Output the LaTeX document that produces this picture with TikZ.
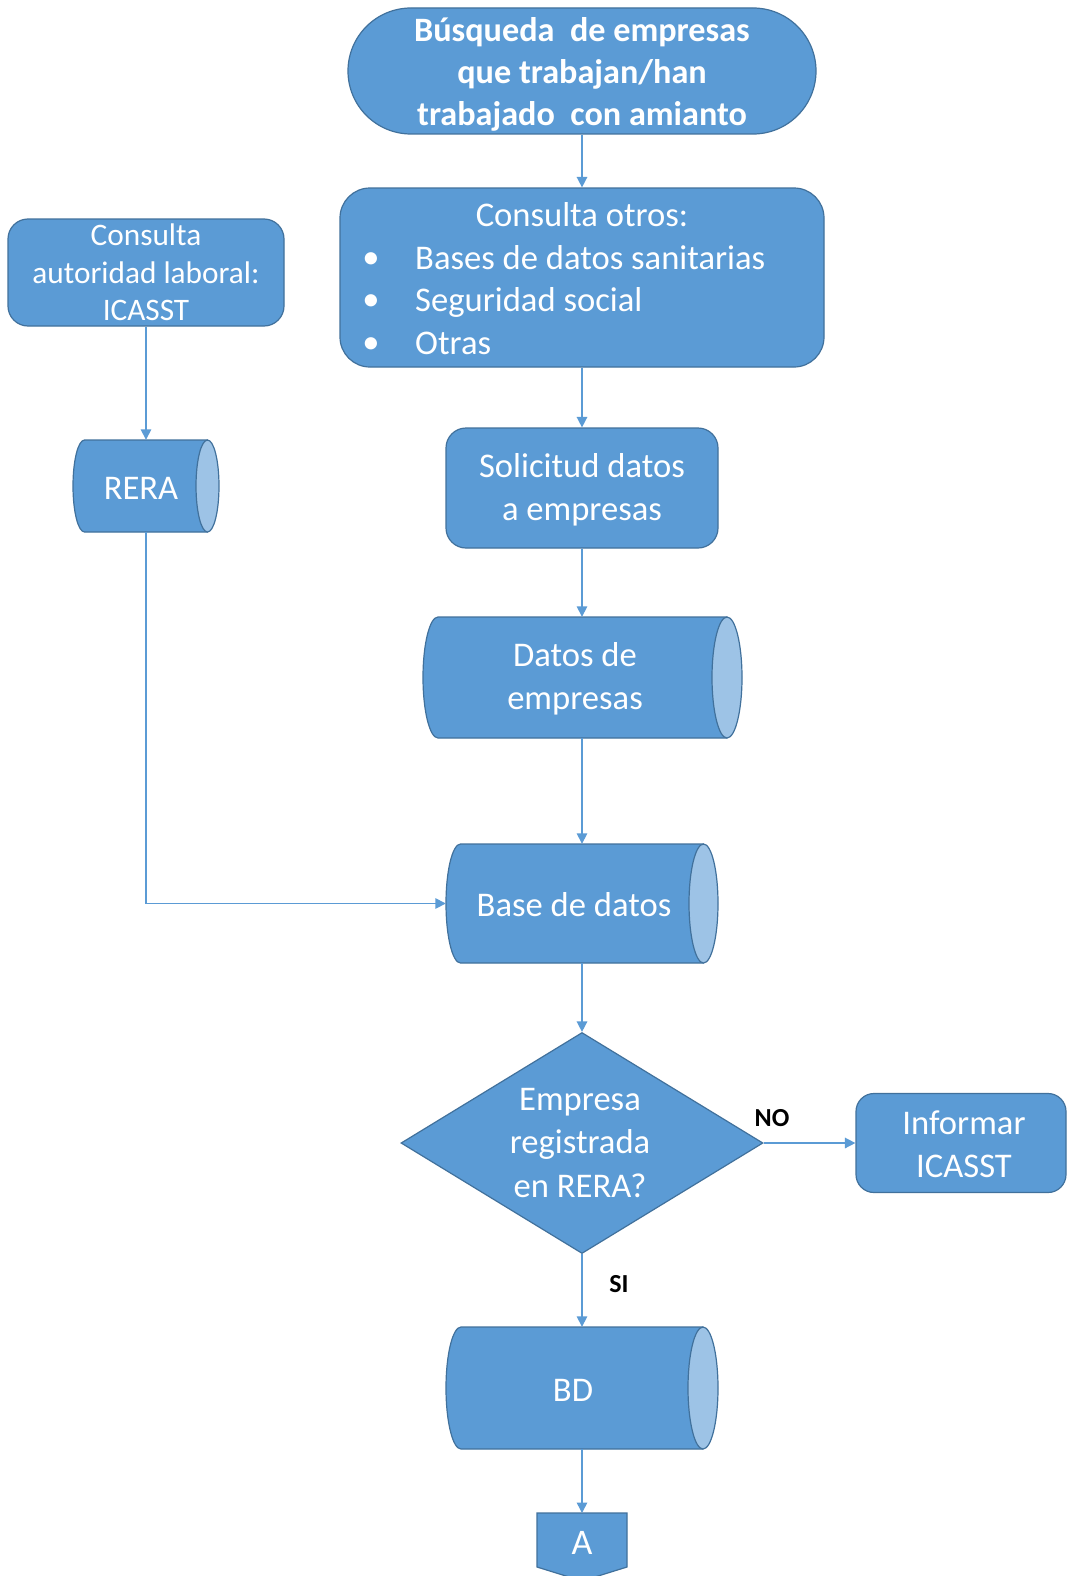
\documentclass[tikz,border=0pt]{standalone}
\usepackage{fontspec}
\setmainfont{Carlito}
\usetikzlibrary{shapes.geometric,arrows.meta}
\definecolor{fillc}{HTML}{5B9BD5}
\definecolor{bordc}{HTML}{41719C}
\definecolor{endc}{HTML}{9DC3E6}
\definecolor{arrc}{HTML}{5B9BD5}
\newcommand\fsA{\fontsize{34.6}{43.5}\selectfont}
\newcommand\fsB{\fontsize{34.2}{42}\selectfont\bfseries}
\newcommand\fsC{\fontsize{31.3}{37.5}\selectfont}
\newcommand\fsD{\fontsize{36}{40}\selectfont}
\newcommand\fsL{\fontsize{26}{28}\selectfont\bfseries}
% L T R B rx
\newcommand\drawcyl[5]{%
  \draw[cylbody] (#1+#5,#2) -- (#3-#5,#2) -- (#3-#5,#4) -- (#1+#5,#4)
     arc[start angle=90, end angle=270, x radius=#5, y radius={(#4-#2)/2}] -- cycle;
  \draw[cylend] (#3-#5,{(#2+#4)/2}) ellipse[x radius=#5, y radius={(#4-#2)/2}];}
\begin{document}
\begin{tikzpicture}[x=1pt,y=-1pt,
  box/.style={draw=bordc, fill=fillc, text=white, line width=1.2pt, align=center, inner sep=0pt, font=\fsA},
  cylbody/.style={draw=bordc, fill=fillc, line width=1.2pt, line join=round},
  cylend/.style={draw=bordc, fill=endc, line width=1.2pt},
  cylnode/.style={rectangle, inner sep=0pt},
  arr/.style={draw=arrc, line width=1.5pt, -{Triangle[width=10.5pt,length=10.5pt]}},
  txt/.style={text=white, align=center, inner sep=0pt, font=\fsA},
  lbl/.style={text=black, inner sep=0pt, font=\fsL}]
\fill[white] (0,0) rectangle (1067,1576);
\useasboundingbox (0,0) rectangle (1067,1576);

\node[box, rounded corners=63pt, minimum width=468, minimum height=126, font=\fsB] (start) at (582,71) {};
\node[txt, font=\fsB] (startT) at (582,74) {Búsqueda\ \ de empresas\\que trabajan/han\\trabajado\ \ con amianto};

\node[box, rounded corners=30pt, minimum width=484, minimum height=179] (otros) at (582,277.5) {};
\node[txt, anchor=base] (otrosT) at (582,226) {Consulta otros:};
\node[txt, anchor=base] (b1) at (371,268) {•};
\node[txt, anchor=base] (b2) at (371,310) {•};
\node[txt, anchor=base] (b3) at (371,353) {•};
\node[txt, anchor=base west] (l1) at (415,269) {Bases de datos sanitarias};
\node[txt, anchor=base west] (l2) at (415,311) {Seguridad social};
\node[txt, anchor=base west] (l3) at (415,354) {Otras};

\node[box, rounded corners=20pt, minimum width=276, minimum height=107, font=\fsC] (icasst) at (146,272.5) {Consulta\\autoridad laboral:\\ICASST};

\drawcyl{73}{440}{219}{532}{11.5}
\node[cylnode, minimum width=146, minimum height=92] (rera) at (146,486) {};
\node[txt] (reraT) at (141,488) {RERA};

\node[box, rounded corners=20pt, minimum width=272, minimum height=120] (sol) at (582,488) {};
\node[txt] (solT) at (582,490) {Solicitud datos\\a empresas};

\drawcyl{423}{617}{742}{738}{15}
\node[cylnode, minimum width=319, minimum height=121] (datos) at (582.5,677.5) {};
\node[txt] (datosT) at (575,679) {Datos de\\empresas};

\drawcyl{446}{844}{718}{963}{14.5}
\node[cylnode, minimum width=272, minimum height=119] (base) at (582,903.5) {};
\node[txt] (baseT) at (574,905) {Base de datos};

\node[diamond, draw=bordc, fill=fillc, line width=1.2pt, minimum width=362, minimum height=221, inner sep=0pt] (dec) at (582,1143) {};
\node[txt] (decT) at (580,1143) {Empresa\\registrada\\en RERA?};

\node[box, rounded corners=18pt, minimum width=210, minimum height=99] (inf) at (961,1143) {};
\node[txt] (infT) at (964,1144) {Informar\\ICASST};

\drawcyl{446}{1327}{718}{1449}{15}
\node[cylnode, minimum width=272, minimum height=122] (bd) at (582,1388) {};
\node[txt] (bdT) at (573,1390) {BD};

\draw[draw=bordc, fill=fillc, line width=1.2pt] (537,1513) -- (627,1513) -- (627,1567) -- (582,1581) -- (537,1567) -- cycle;
\node[txt, font=\fsD, minimum width=90, minimum height=60, anchor=north] (A) at (582,1513) {A};

\draw[arr] (start) -- (otros);
\draw[arr] (otros) -- (sol);
\draw[arr] (sol.south) -- (sol.south |- datos.north);
\draw[arr] (datos.south -| base.north) -- (base.north);
\draw[arr] (base) -- (dec);
\draw[arr] (dec) -- (inf);
\draw[arr] (dec) -- (bd);
\draw[arr] (bd) -- (A);
\draw[arr] (icasst) -- (rera);
\draw[arr] (rera.south) |- (base.west);

\node[lbl] (no) at (772,1118) {NO};
\node[lbl] (si) at (619,1284) {SI};
\end{tikzpicture}
\end{document}
